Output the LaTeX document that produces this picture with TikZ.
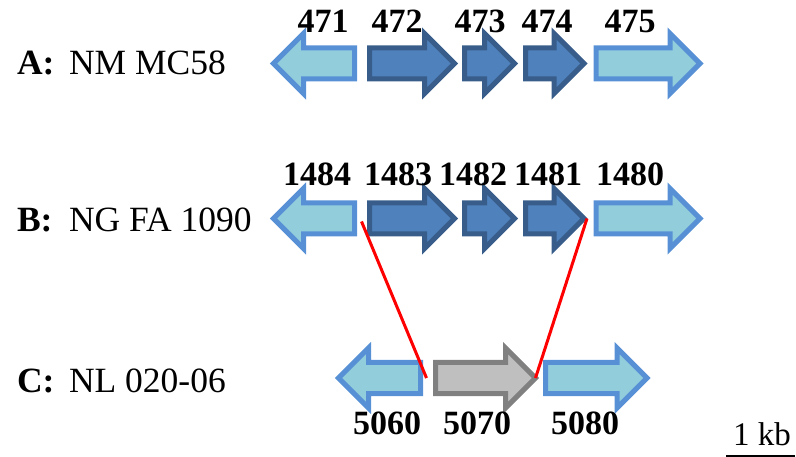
\documentclass[tikz,border=0pt]{standalone}
\usepackage{fontspec}
\setmainfont{Liberation Serif}
\usetikzlibrary{shapes.arrows,calc}

\definecolor{lightfill}{RGB}{146,205,220}
\definecolor{lightline}{RGB}{88,144,214}
\definecolor{darkfill}{RGB}{79,129,189}
\definecolor{darkline}{RGB}{56,93,138}
\definecolor{grayfill}{RGB}{191,191,191}
\definecolor{grayline}{RGB}{128,128,128}

\begin{document}
\begin{tikzpicture}[x=1pt,y=-1pt]
\tikzstyle{every node}=[inner sep=0pt, outer sep=0pt]
\tikzstyle{gene}=[single arrow, single arrow head extend=14.5pt, minimum width=0pt,
  inner xsep=0pt, inner ysep=13pt, line width=5pt, draw, anchor=tail]
\tikzstyle{light}=[gene, fill=lightfill, draw=lightline]
\tikzstyle{dark}=[gene, fill=darkfill, draw=darkline]
\tikzstyle{grey}=[gene, fill=grayfill, draw=grayline]
\tikzstyle{rev}=[shape border rotate=180]
\tikzstyle{num}=[anchor=base, font=\fontsize{34}{40}\selectfont\bfseries]
\tikzstyle{row}=[anchor=base west, font=\fontsize{35.5}{42}\selectfont]
\useasboundingbox (0,0) rectangle (796,457);
\draw (17,75) node (ra) [row] {\textbf{A:}};
\draw (69,75) node (sa) [row] {NM MC58};
\draw (17,232) node (rb) [row] {\textbf{B:}};
\draw (69,232) node (sb) [row] {NG FA 1090};
\draw (17,392) node (rc) [row] {\textbf{C:}};
\draw (69,392) node (sc) [row] {NL 020-06};
\draw (354.5,63.5) node (g471) [light,rev,minimum height=81pt] {};
\draw (369.5,63.5) node (g472) [dark,minimum height=85pt] {};
\draw (464.5,63.5) node (g473) [dark,minimum height=50pt] {};
\draw (525.5,63.5) node (g474) [dark,minimum height=58.5pt] {};
\draw (596,63.5) node (g475) [light,minimum height=104pt] {};
\draw (354.5,218.5) node (g1484) [light,rev,minimum height=81pt] {};
\draw (369.5,218.5) node (g1483) [dark,minimum height=85pt] {};
\draw (464.5,218.5) node (g1482) [dark,minimum height=50pt] {};
\draw (525.5,218.5) node (g1481) [dark,minimum height=58.5pt] {};
\draw (596,218.5) node (g1480) [light,minimum height=104pt] {};
\draw (420.5,378) node (g5060) [light,rev,minimum height=82pt] {};
\draw (435.5,378) node (g5070) [grey,minimum height=100pt] {};
\draw (545.5,378) node (g5080) [light,minimum height=101.5pt] {};
\draw[red, line width=3pt] ($(g1484.tail)+(7,3)$) -- ($(g5060.tail)+(6,0)$);
\draw[red, line width=3pt] ($(g1481.tip)+(3,0)$) -- (g5070.tip);
\draw (323,33) node (n471) [num] {471};
\draw (397,33) node (n472) [num] {472};
\draw (480,33) node (n473) [num] {473};
\draw (547,33) node (n474) [num] {474};
\draw (630,33) node (n475) [num] {475};
\draw (317,186) node (n1484) [num] {1484};
\draw (398,186) node (n1483) [num] {1483};
\draw (473,186) node (n1482) [num] {1482};
\draw (548,186) node (n1481) [num] {1481};
\draw (630,186) node (n1480) [num] {1480};
\draw (387,434) node (n5060) [num] {5060};
\draw (477,434) node (n5070) [num] {5070};
\draw (585,434) node (n5080) [num] {5080};
\draw (762,445) node (kb) [anchor=base, font=\fontsize{33}{40}\selectfont] {1 kb};
\coordinate (bar0) at (726,455.5);
\coordinate (bar1) at (795,455.5);
\draw[line width=2pt] (bar0) -- (bar1);
\end{tikzpicture}
\end{document}
